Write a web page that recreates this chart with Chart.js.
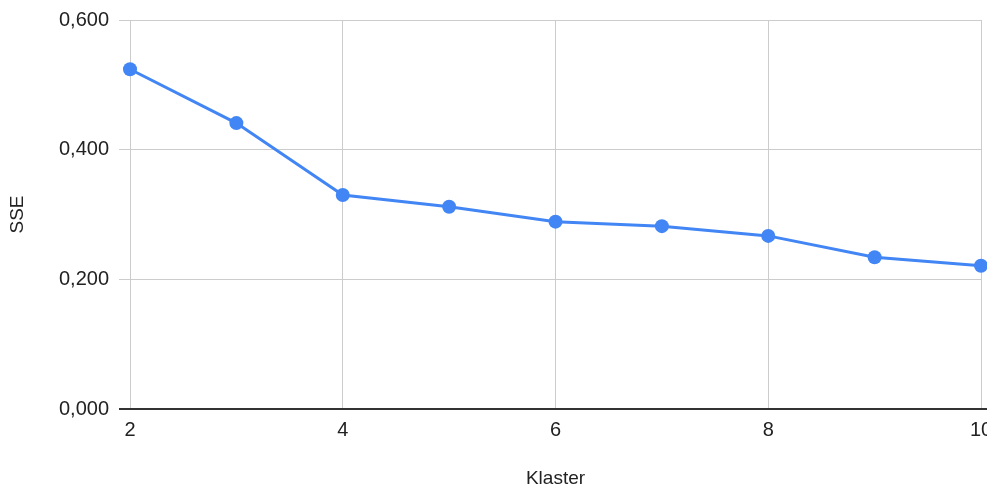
<!DOCTYPE html>
<html>
<head>
<meta charset="utf-8">
<script src="https://cdn.jsdelivr.net/npm/chart.js@4"></script>
<style>
  html, body { margin: 0; padding: 0; background: #fff; overflow: hidden; }
  #wrap { position: relative; width: 1010px; height: 488px; }
</style>
</head>
<body>
<div id="wrap"><canvas id="c"></canvas></div>
<script>
// Number of clusters (k) and the sum of squared errors for each
const klaster = [2, 3, 4, 5, 6, 7, 8, 9, 10];
const sse = [0.524, 0.441, 0.330, 0.312, 0.289, 0.282, 0.267, 0.234, 0.221];
const yTicks = [0, 0.2, 0.4, 0.6];
const xTicks = [2, 4, 6, 8, 10];

const FONT = "'Liberation Sans', Arial, sans-serif";
const AXIS_DARK = '#333333';
const GRID = '#cccccc';
const fmt = v => v.toFixed(3).replace('.', ',');

// The zero baseline runs on to the right edge of the canvas
const baselinePlugin = {
  id: 'baseline',
  afterDatasetsDraw(chart) {
    const { ctx, scales: { y }, chartArea } = chart;
    const py = Math.round(y.getPixelForValue(0));
    ctx.save();
    ctx.strokeStyle = AXIS_DARK;
    ctx.lineWidth = 2;
    ctx.beginPath();
    ctx.moveTo(chartArea.right - 1, py);
    ctx.lineTo(chart.width, py);
    ctx.stroke();
    ctx.restore();
  }
};

new Chart(document.getElementById('c'), {
  type: 'line',
  data: {
    datasets: [{
      label: 'SSE',
      data: klaster.map((k, i) => ({ x: k, y: sse[i] })),
      borderColor: '#4285F4',
      backgroundColor: '#4285F4',
      borderWidth: 3,
      pointRadius: 7,
      pointHoverRadius: 7,
      pointBorderWidth: 0,
      tension: 0,
      clip: false
    }]
  },
  plugins: [baselinePlugin],
  options: {
    responsive: true,
    maintainAspectRatio: false,
    animation: false,
    devicePixelRatio: 1,
    layout: { padding: { top: 20, right: 29, bottom: 0, left: 0 } },
    plugins: { legend: { display: false }, tooltip: { enabled: false } },
    scales: {
      x: {
        type: 'linear',
        min: 2,
        max: 10,
        afterBuildTicks: s => { s.ticks = xTicks.map(v => ({ value: v })); },
        afterFit: s => { s.height = 79; s.paddingLeft = 0; s.paddingRight = 0; },
        ticks: { color: '#222', font: { family: FONT, size: 20 }, padding: 9, maxRotation: 0 },
        grid: { color: GRID, lineWidth: 1, drawTicks: false },
        border: { display: false },
        title: {
          display: true, text: 'Klaster', color: '#222',
          font: { family: FONT, size: 19, lineHeight: 1 },
          padding: { top: 0, bottom: 0 }
        }
      },
      y: {
        min: 0,
        max: 0.6,
        afterBuildTicks: s => { s.ticks = yTicks.map(v => ({ value: v })); },
        afterFit: s => { s.width = 130; s.paddingTop = 0; s.paddingBottom = 0; },
        ticks: { color: '#222', font: { family: FONT, size: 20 }, padding: 10, callback: v => fmt(v) },
        grid: {
          color: c => (c.tick && c.tick.value === 0 ? AXIS_DARK : GRID),
          lineWidth: c => (c.tick && c.tick.value === 0 ? 2 : 1),
          tickLength: 11
        },
        border: { display: false },
        title: {
          display: true, text: 'SSE', color: '#222',
          font: { family: FONT, size: 19, lineHeight: 1 },
          padding: { top: 8, bottom: 0 }
        }
      }
    }
  }
});
</script>
</body>
</html>
